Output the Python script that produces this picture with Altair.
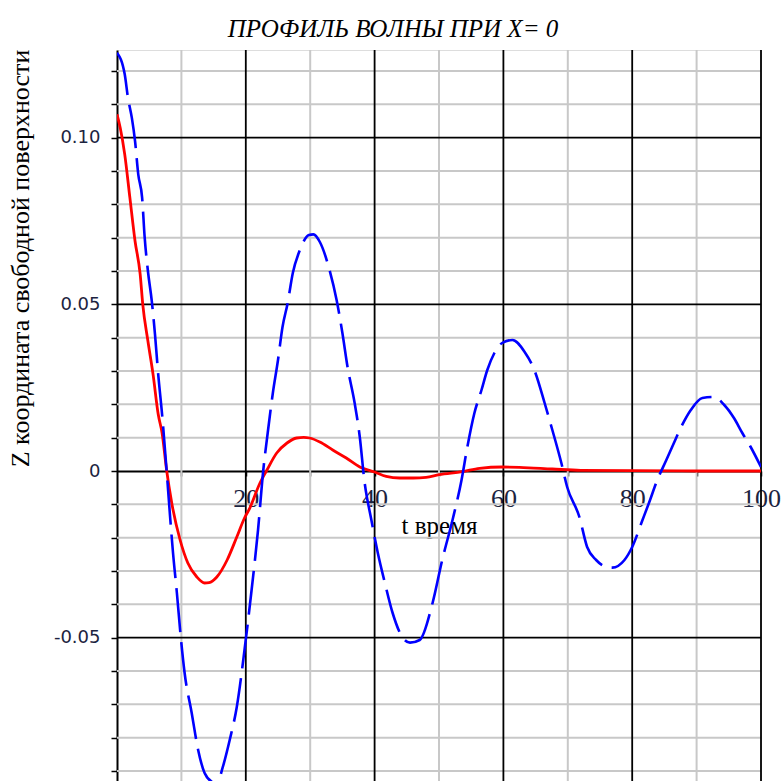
import altair as alt
import pandas as pd

# ---- data ----
red_t = [0, 0.5, 1.2, 2.0, 2.8, 3.6, 4.0, 4.8, 5.6, 6.4, 7.0, 7.7, 8.5, 9.8, 11.0,
         12.4, 13.6, 14.3, 15.5, 17.1, 18.6, 19.8, 20.6, 22.2, 23.2, 24.8, 26.4,
         27.9, 29.0, 29.9, 31.5, 33.5, 35.6, 37.7, 40.0, 41.8, 43.9, 46.0, 48.0,
         50.0, 53.6, 56.3, 59.8, 62.5, 67.6, 72.0, 80.0, 90.0, 100.0]
red_z = [0.107, 0.103, 0.095, 0.082, 0.069, 0.059, 0.050, 0.039, 0.029, 0.017,
         0.0114, 0.0003, -0.0096, -0.0207, -0.0276, -0.0318, -0.0336, -0.0335,
         -0.0318, -0.0267, -0.0198, -0.0141, -0.0112, -0.0036, 0.0, 0.0054,
         0.0084, 0.0099, 0.0101, 0.0099, 0.0087, 0.0063, 0.0039, 0.0012, -0.0003,
         -0.0016, -0.0021, -0.0021, -0.0019, -0.0011, -0.0002, 0.0008, 0.0012,
         0.0011, 0.0006, 0.0002, 0.0001, 0.0, 0.0]

blue_t = [0, 1.2, 1.7, 2.3, 2.8, 3.3, 3.9, 4.3, 4.8, 5.4, 5.9, 6.4, 7.0, 7.7, 8.2,
          8.7, 9.3, 9.9, 10.5, 11.6, 12.6, 13.6, 14.9, 15.5, 16.4, 17.5, 18.6,
          19.8, 20.9, 21.9, 22.7, 23.4, 24.2, 25.0, 25.7, 26.5, 27.3, 28.4, 29.8,
          30.5, 31.5, 33.0, 34.1, 35.0, 35.8, 36.9, 37.7, 38.4, 39.5, 40.5, 41.6,
          42.8, 44.3, 45.5, 47.0, 49.0, 50.5, 52.1, 53.5, 54.4, 55.5, 56.6, 57.5,
          58.6, 59.8, 61.4, 63.3, 64.8, 66.4, 67.6, 69.0, 69.9, 71.8, 73.0, 74.4,
          76.0, 76.9, 78.8, 80.0, 81.6, 82.6, 83.9, 85.3, 86.2, 87.6, 89.1, 90.9,
          92.7, 94.3, 95.8, 97.1, 98.4, 100.0]
blue_z = [0.1255, 0.119, 0.112, 0.106, 0.099, 0.089, 0.082, 0.070, 0.060, 0.051,
          0.041, 0.029, 0.017, 0.0003, -0.0126, -0.0246, -0.0366, -0.0498,
          -0.0606, -0.0726, -0.0837, -0.0906, -0.0935, -0.0940, -0.0890, -0.0807,
          -0.0708, -0.0537, -0.0357, -0.0177, 0.0, 0.0114, 0.0234, 0.0333, 0.0432,
          0.0504, 0.0594, 0.0663, 0.0708, 0.0710, 0.0687, 0.0603, 0.0513, 0.0414,
          0.0312, 0.0204, 0.0102, -0.0027, -0.0147, -0.0246, -0.0336, -0.0426,
          -0.0498, -0.0515, -0.0507, -0.0396, -0.0267, -0.0147, -0.0027, 0.0072,
          0.0174, 0.0243, 0.0303, 0.0354, 0.0384, 0.0393, 0.0357, 0.0303, 0.0204,
          0.0123, 0.0024, -0.0048, -0.0138, -0.0228, -0.0267, -0.0288, -0.0290,
          -0.0267, -0.0228, -0.0147, -0.0096, -0.0027, 0.0033, 0.0072, 0.0132,
          0.0183, 0.0219, 0.0222, 0.0198, 0.0159, 0.0114, 0.0072, 0.0012]

x_ticks = [10, 20, 30, 40, 50, 60, 70, 80, 90, 100]
x_major = [20, 40, 60, 80, 100]
x_minor = [10, 30, 50, 70, 90]
y_ticks = [-0.09, -0.08, -0.07, -0.06, -0.05, -0.04, -0.03, -0.02, -0.01, 0.0,
           0.01, 0.02, 0.03, 0.04, 0.05, 0.06, 0.07, 0.08, 0.09, 0.10, 0.11, 0.12]
y_major = [-0.05, 0.05, 0.10]
y_minor = [-0.09, -0.08, -0.07, -0.06, -0.04, -0.03, -0.02, -0.01, 0.01, 0.02,
           0.03, 0.04, 0.06, 0.07, 0.08, 0.09, 0.11, 0.12]
y_label_vals = [-0.05, 0.0, 0.05, 0.10]
y_label_txt = ["-0.05", "0", "0.05", "0.10"]

title_text = "ПРОФИЛЬ ВОЛНЫ ПРИ X= 0"
x_title = "t время"
y_title = "Z координата свободной поверхности"

# ---- layout ----
W, H = 644, 731
y_dom = [-0.0930, 0.1263]
zero_from_bottom = H * (0 - y_dom[0]) / (y_dom[1] - y_dom[0])

ylab_expr = " : ".join(
    f"abs(datum.value - ({v})) < 0.0001 ? '{t}'" for v, t in zip(y_label_vals, y_label_txt)
) + " : ''"

xs = alt.Scale(domain=[0, 100], nice=False, zero=False)
ys = alt.Scale(domain=y_dom, nice=False, zero=False)

xaxis = alt.Axis(values=x_ticks, grid=False, zindex=0,
                 labelExpr="datum.value % 20 == 0 ? datum.label : ''",
                 format="d", labelFlush=False, labelOverlap=False,
                 labelFont="Liberation Serif", labelFontSize=26, labelColor="#1c2340",
                 labelPadding=9, tickSize=5, tickColor="black", tickWidth=1.5,
                 domainColor="black", domainWidth=2, offset=-zero_from_bottom,
                 title=x_title, titleFont="Liberation Serif", titleFontSize=25,
                 titleFontWeight="normal", titleColor="black",
                 titleBaseline="alphabetic", titleY=62)
yaxis = alt.Axis(values=y_ticks, grid=False, zindex=0, labelExpr=ylab_expr,
                 labelFont="DejaVu Sans", labelFontSize=18, labelColor="#1c2340",
                 labelPadding=11, tickSize=6, tickColor="black", tickWidth=1.5,
                 domainColor="black", domainWidth=2, labelOverlap=False,
                 labelFlush=False,
                 title=y_title, titleFont="Liberation Serif", titleFontSize=26,
                 titleFontWeight="normal", titleColor="black",
                 titleAngle=270, titleBaseline="alphabetic", titleX=-89, titleY=208)

X = lambda: alt.X("t:Q", scale=xs, axis=xaxis)
Y = lambda: alt.Y("z:Q", scale=ys, axis=yaxis)

vminor = alt.Chart(pd.DataFrame({"t": x_minor})).mark_rule(
    color="#c8c8c8", strokeWidth=2).encode(x=X())
hminor = alt.Chart(pd.DataFrame({"z": y_minor})).mark_rule(
    color="#c8c8c8", strokeWidth=2).encode(y=Y())
vmajor = alt.Chart(pd.DataFrame({"t": x_major})).mark_rule(
    color="black", strokeWidth=1.8).encode(x=X())
hmajor = alt.Chart(pd.DataFrame({"z": y_major})).mark_rule(
    color="black", strokeWidth=1.8).encode(y=Y())

red = alt.Chart(pd.DataFrame({"t": red_t, "z": red_z})).mark_line(
    color="#ff0000", strokeWidth=2.8, interpolate="monotone", clip=True
).encode(x=X(), y=Y())
blue = alt.Chart(pd.DataFrame({"t": blue_t, "z": blue_z})).mark_line(
    color="#0000ff", strokeWidth=2.6, strokeDash=[44, 10], interpolate="monotone",
    clip=True
).encode(x=X(), y=Y())

chart = alt.layer(hminor, vminor, hmajor, vmajor, red, blue).properties(
    width=W, height=H,
    title=alt.TitleParams(text=title_text, font="Liberation Serif", fontSize=25,
                          fontStyle="italic", fontWeight="normal", color="black",
                          anchor="middle", dx=-46, dy=27, offset=14,
                          baseline="alphabetic"),
    padding={"left": 117, "top": 50, "right": 21, "bottom": 0},
    autosize=alt.AutoSizeParams(type="none"),
).configure_view(stroke=None).configure(background="white")

chart.save("out.html", embed_options={"renderer": "svg", "actions": False})
